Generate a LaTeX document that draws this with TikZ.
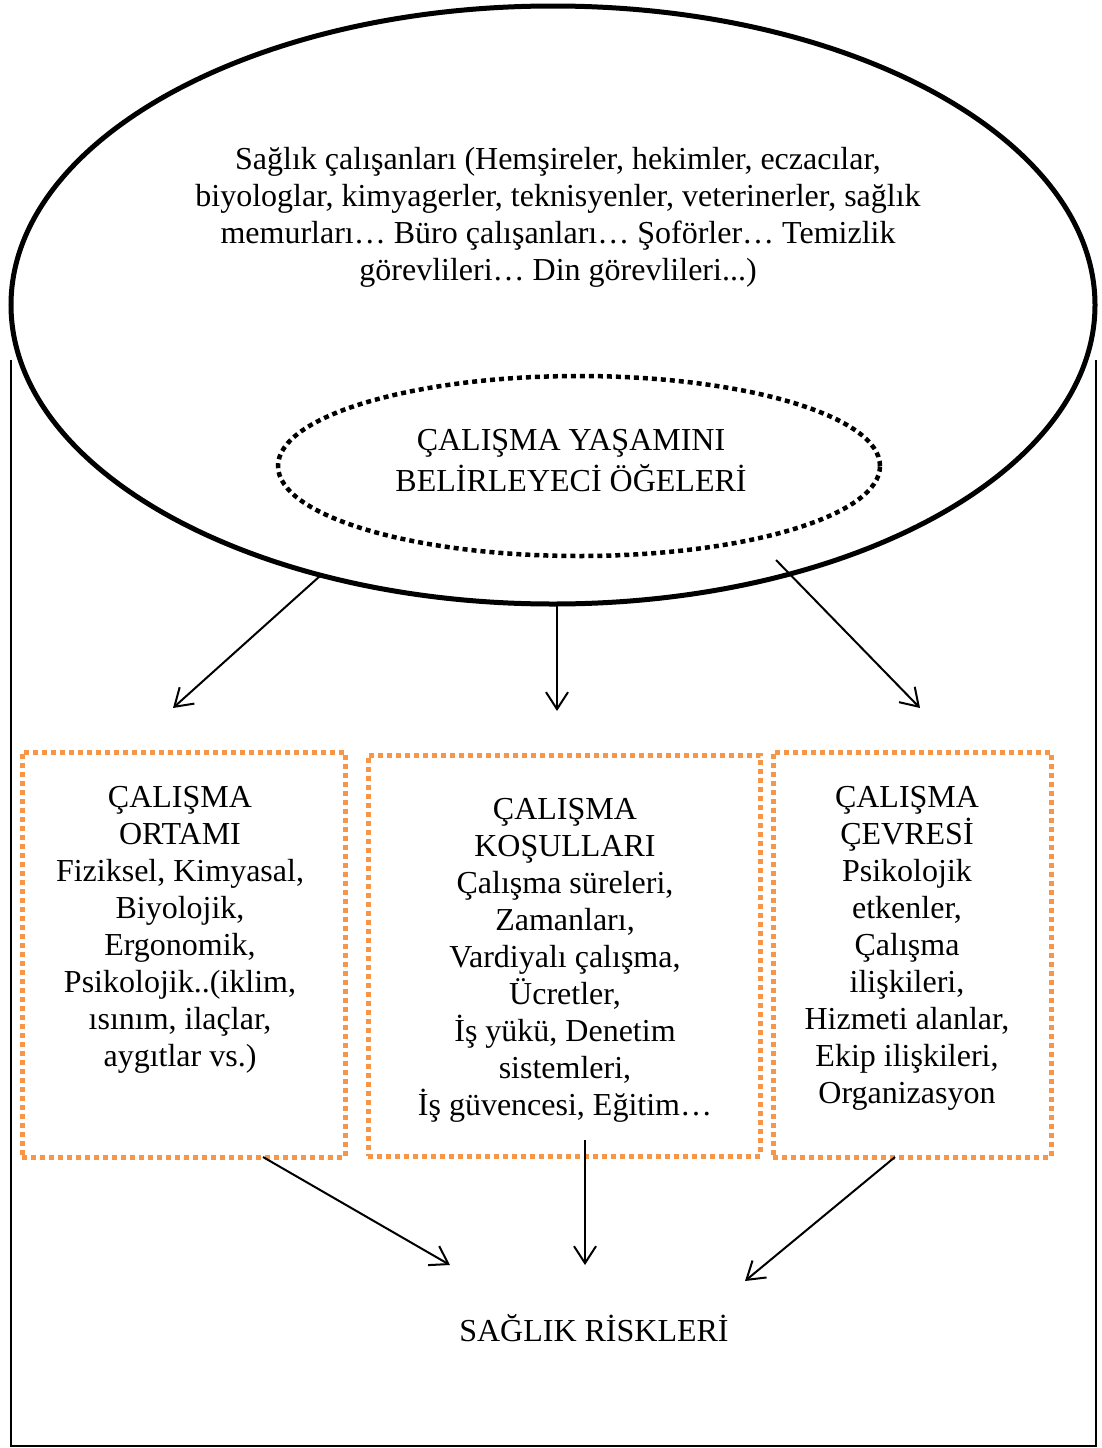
\documentclass[tikz,border=0pt]{standalone}
\usepackage{fontspec}
\setmainfont{Liberation Serif}
\usetikzlibrary{shapes.geometric,arrows.meta}
\definecolor{accorange}{HTML}{F79646}
\begin{document}
\begin{tikzpicture}[x=1pt,y=-1pt,
  txt/.style={align=center, font=\fontsize{32}{37}\selectfont, inner sep=0pt},
  obox/.style={draw=accorange, line width=5pt, dash pattern=on 5pt off 4pt, inner sep=0pt},
  arr/.style={line width=2pt, -{Straight Barb[length=17pt,width=22pt,line width=2pt]}},
  frame/.style={line width=1.6pt}]
\useasboundingbox (0,0) rectangle (1101,1448);
% outer frame (top hidden behind the big ellipse)
\coordinate (fl) at (11,360);
\coordinate (fr) at (1096,360);
\draw[frame] (fl) -- (11,1446) -- (1096,1446) -- (fr);
% big ellipse
\node[ellipse, draw, fill=white, line width=5pt, minimum width=1084pt, minimum height=598pt, inner sep=0pt] (big) at (553,305) {};
\node[txt] (people) at (558,217) {Sağlık çalışanları (Hemşireler, hekimler, eczacılar,\\
biyologlar, kimyagerler, teknisyenler, veterinerler, sağlık\\
memurları… Büro çalışanları… Şoförler… Temizlik\\
görevlileri… Din görevlileri...)};
% dotted ellipse
\node[ellipse, draw, line width=4.5pt, dash pattern=on 5pt off 4pt, minimum width=602pt, minimum height=180pt, inner sep=0pt] (inner) at (579,466) {};
\node[txt, font=\fontsize{32}{41}\selectfont] (innertxt) at (571,461) {ÇALIŞMA YAŞAMINI\\BELİRLEYECİ ÖĞELERİ};
% boxes
\node[obox, minimum width=323pt, minimum height=405pt] (b1) at (183.5,954.5) {};
\node[obox, minimum width=392pt, minimum height=401pt] (b2) at (564,955.5) {};
\node[obox, minimum width=278pt, minimum height=405pt] (b3) at (912,954.5) {};
\node[txt] (t1) at (180,930) {ÇALIŞMA\\ORTAMI\\Fiziksel, Kimyasal,\\Biyolojik,\\Ergonomik,\\Psikolojik..(iklim,\\ısınım, ilaçlar,\\aygıtlar vs.)};
\node[txt] (t2) at (565,960) {ÇALIŞMA\\KOŞULLARI\\Çalışma süreleri,\\Zamanları,\\Vardiyalı çalışma,\\Ücretler,\\İş yükü, Denetim\\sistemleri,\\İş güvencesi, Eğitim…};
\node[txt] (t3) at (907,948) {ÇALIŞMA\\ÇEVRESİ\\Psikolojik\\etkenler,\\Çalışma\\ilişkileri,\\Hizmeti alanlar,\\Ekip ilişkileri,\\Organizasyon};
% result
\node[txt] (risk) at (594,1328) {SAĞLIK RİSKLERİ};
% arrow coordinates
\coordinate (a1s) at (320,576);
\coordinate (a1e) at (173,708);
\coordinate (a2s) at (557,605);
\coordinate (a2e) at (557,711);
\coordinate (a3s) at (776,560);
\coordinate (a3e) at (920,708);
\coordinate (c1s) at (263,1157);
\coordinate (c1e) at (450,1265);
\coordinate (c2s) at (585,1140);
\coordinate (c2e) at (585,1265);
\coordinate (c3s) at (895,1157);
\coordinate (c3e) at (745,1281);
\draw[arr] (a1s) -- (a1e);
\draw[arr] (a2s) -- (a2e);
\draw[arr] (a3s) -- (a3e);
\draw[arr] (c1s) -- (c1e);
\draw[arr] (c2s) -- (c2e);
\draw[arr] (c3s) -- (c3e);
\end{tikzpicture}
\end{document}
